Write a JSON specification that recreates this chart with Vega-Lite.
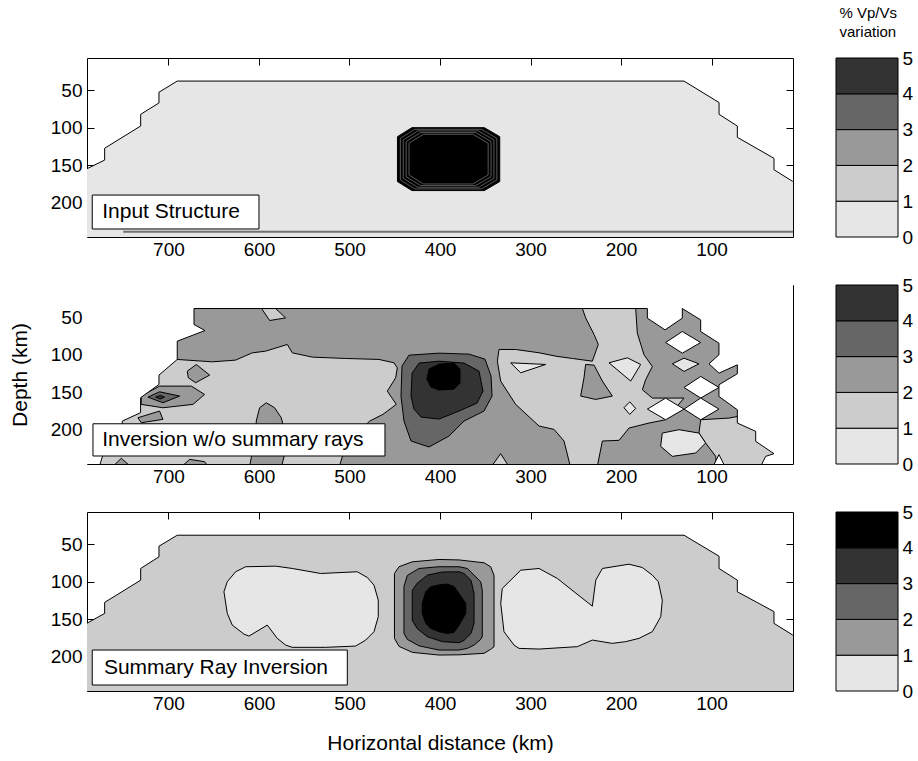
{
"$schema":"https://vega.github.io/schema/vega-lite/v6.json",
"background":"white",
"padding":{"left":9,"top":6,"right":0,"bottom":0},
"config":{"font":"Liberation Sans","view":{"stroke":null},
"axis":{"labelColor":"black","tickColor":"black","domainColor":"black","titleColor":"black","titleFontWeight":"normal","labelFontSize":19,"titleFontSize":21,"grid":false,"zindex":1,"tickWidth":1,"domainWidth":1,"labelFont":"Liberation Sans","titleFont":"Liberation Sans"}},
"datasets":{
"bar":[{"lo":0,"hi":1,"l":"0-1"},{"lo":1,"hi":2,"l":"1-2"},{"lo":2,"hi":3,"l":"2-3"},{"lo":3,"hi":4,"l":"3-4"},{"lo":4,"hi":5,"l":"4-5"}],
"poly":[
{"p":1,"r":"a01","l":"0-1","i":0,"x":810,"y":167},{"p":1,"r":"a01","l":"0-1","i":1,"x":790.8,"y":155.3},{"p":1,"r":"a01","l":"0-1","i":2,"x":770.5,"y":143.3},{"p":1,"r":"a01","l":"0-1","i":3,"x":770.5,"y":127.5},{"p":1,"r":"a01","l":"0-1","i":4,"x":730.7,"y":97.8},{"p":1,"r":"a01","l":"0-1","i":5,"x":730.7,"y":82.2},{"p":1,"r":"a01","l":"0-1","i":6,"x":710.5,"y":67},{"p":1,"r":"a01","l":"0-1","i":7,"x":710.5,"y":52.7},{"p":1,"r":"a01","l":"0-1","i":8,"x":690.3,"y":37.8},{"p":1,"r":"a01","l":"0-1","i":9,"x":130.4,"y":37.8},{"p":1,"r":"a01","l":"0-1","i":10,"x":91.7,"y":66.5},{"p":1,"r":"a01","l":"0-1","i":11,"x":91.7,"y":82.2},{"p":1,"r":"a01","l":"0-1","i":12,"x":71.5,"y":97.8},{"p":1,"r":"a01","l":"0-1","i":13,"x":71.5,"y":112.9},{"p":1,"r":"a01","l":"0-1","i":14,"x":31,"y":141},{"p":1,"r":"a01","l":"0-1","i":15,"x":31,"y":156.2},{"p":1,"r":"a01","l":"0-1","i":16,"x":10.7,"y":171.5},{"p":1,"r":"a01","l":"0-1","i":17,"x":-10,"y":187},{"p":1,"r":"a01","l":"0-1","i":18,"x":-10,"y":260},{"p":1,"r":"a01","l":"0-1","i":19,"x":810,"y":260},
{"p":1,"r":"a02","l":">5","i":0,"x":447,"y":112},{"p":1,"r":"a02","l":">5","i":1,"x":431,"y":100},{"p":1,"r":"a02","l":">5","i":2,"x":351,"y":100},{"p":1,"r":"a02","l":">5","i":3,"x":334,"y":112},{"p":1,"r":"a02","l":">5","i":4,"x":334,"y":172},{"p":1,"r":"a02","l":">5","i":5,"x":351,"y":184},{"p":1,"r":"a02","l":">5","i":6,"x":431,"y":184},{"p":1,"r":"a02","l":">5","i":7,"x":447,"y":172},
{"p":1,"r":"a03","l":"ring","i":0,"x":443.8,"y":114.2},{"p":1,"r":"a03","l":"ring","i":1,"x":427.8,"y":102.2},{"p":1,"r":"a03","l":"ring","i":2,"x":354.2,"y":102.2},{"p":1,"r":"a03","l":"ring","i":3,"x":337.2,"y":114.2},{"p":1,"r":"a03","l":"ring","i":4,"x":337.2,"y":169.8},{"p":1,"r":"a03","l":"ring","i":5,"x":354.2,"y":181.8},{"p":1,"r":"a03","l":"ring","i":6,"x":427.8,"y":181.8},{"p":1,"r":"a03","l":"ring","i":7,"x":443.8,"y":169.8},
{"p":1,"r":"a04","l":"ring","i":0,"x":440.6,"y":116.4},{"p":1,"r":"a04","l":"ring","i":1,"x":424.6,"y":104.4},{"p":1,"r":"a04","l":"ring","i":2,"x":357.4,"y":104.4},{"p":1,"r":"a04","l":"ring","i":3,"x":340.4,"y":116.4},{"p":1,"r":"a04","l":"ring","i":4,"x":340.4,"y":167.6},{"p":1,"r":"a04","l":"ring","i":5,"x":357.4,"y":179.6},{"p":1,"r":"a04","l":"ring","i":6,"x":424.6,"y":179.6},{"p":1,"r":"a04","l":"ring","i":7,"x":440.6,"y":167.6},
{"p":1,"r":"a05","l":"ring","i":0,"x":437.4,"y":118.6},{"p":1,"r":"a05","l":"ring","i":1,"x":421.4,"y":106.6},{"p":1,"r":"a05","l":"ring","i":2,"x":360.6,"y":106.6},{"p":1,"r":"a05","l":"ring","i":3,"x":343.6,"y":118.6},{"p":1,"r":"a05","l":"ring","i":4,"x":343.6,"y":165.4},{"p":1,"r":"a05","l":"ring","i":5,"x":360.6,"y":177.4},{"p":1,"r":"a05","l":"ring","i":6,"x":421.4,"y":177.4},{"p":1,"r":"a05","l":"ring","i":7,"x":437.4,"y":165.4},
{"p":1,"r":"a06","l":"ring","i":0,"x":434.2,"y":120.8},{"p":1,"r":"a06","l":"ring","i":1,"x":418.2,"y":108.8},{"p":1,"r":"a06","l":"ring","i":2,"x":363.8,"y":108.8},{"p":1,"r":"a06","l":"ring","i":3,"x":346.8,"y":120.8},{"p":1,"r":"a06","l":"ring","i":4,"x":346.8,"y":163.2},{"p":1,"r":"a06","l":"ring","i":5,"x":363.8,"y":175.2},{"p":1,"r":"a06","l":"ring","i":6,"x":418.2,"y":175.2},{"p":1,"r":"a06","l":"ring","i":7,"x":434.2,"y":163.2},

{"p":2,"r":"b01","l":"2-3","i":0,"x":820,"y":-20},{"p":2,"r":"b01","l":"2-3","i":1,"x":-20,"y":-20},{"p":2,"r":"b01","l":"2-3","i":2,"x":-20,"y":260},{"p":2,"r":"b01","l":"2-3","i":3,"x":820,"y":260},
{"p":2,"r":"b02","l":"1-2","i":0,"x":820,"y":106.4},{"p":2,"r":"b02","l":"1-2","i":1,"x":690.3,"y":106.4},{"p":2,"r":"b02","l":"1-2","i":2,"x":651.6,"y":109.6},{"p":2,"r":"b02","l":"1-2","i":3,"x":625.8,"y":107.3},{"p":2,"r":"b02","l":"1-2","i":4,"x":607.4,"y":97.6},{"p":2,"r":"b02","l":"1-2","i":5,"x":592.6,"y":95.3},{"p":2,"r":"b02","l":"1-2","i":6,"x":568.7,"y":86.4},{"p":2,"r":"b02","l":"1-2","i":7,"x":563.2,"y":97.6},{"p":2,"r":"b02","l":"1-2","i":8,"x":541.1,"y":103.3},{"p":2,"r":"b02","l":"1-2","i":9,"x":504.2,"y":105.1},{"p":2,"r":"b02","l":"1-2","i":10,"x":467.4,"y":106.4},{"p":2,"r":"b02","l":"1-2","i":11,"x":450.8,"y":110.9},{"p":2,"r":"b02","l":"1-2","i":12,"x":447.2,"y":117.6},{"p":2,"r":"b02","l":"1-2","i":13,"x":449,"y":130.9},{"p":2,"r":"b02","l":"1-2","i":14,"x":458.2,"y":148.7},{"p":2,"r":"b02","l":"1-2","i":15,"x":448.3,"y":166.4},{"p":2,"r":"b02","l":"1-2","i":16,"x":463,"y":179.7},{"p":2,"r":"b02","l":"1-2","i":17,"x":477.7,"y":188.7},{"p":2,"r":"b02","l":"1-2","i":18,"x":491.7,"y":204.7},{"p":2,"r":"b02","l":"1-2","i":19,"x":506.1,"y":228.7},{"p":2,"r":"b02","l":"1-2","i":20,"x":513.8,"y":260},{"p":2,"r":"b02","l":"1-2","i":21,"x":820,"y":260},
{"p":2,"r":"b03","l":"1-2","i":0,"x":334.8,"y":93.1},{"p":2,"r":"b03","l":"1-2","i":1,"x":316.4,"y":93.1},{"p":2,"r":"b03","l":"1-2","i":2,"x":290.6,"y":97.5},{"p":2,"r":"b03","l":"1-2","i":3,"x":272.2,"y":102},{"p":2,"r":"b03","l":"1-2","i":4,"x":253.8,"y":105.1},{"p":2,"r":"b03","l":"1-2","i":5,"x":231.7,"y":108.7},{"p":2,"r":"b03","l":"1-2","i":6,"x":225.1,"y":86.4},{"p":2,"r":"b03","l":"1-2","i":7,"x":229.8,"y":73.1},{"p":2,"r":"b03","l":"1-2","i":8,"x":239.1,"y":50.9},{"p":2,"r":"b03","l":"1-2","i":9,"x":242.7,"y":38.4},{"p":2,"r":"b03","l":"1-2","i":10,"x":183.8,"y":38.4},{"p":2,"r":"b03","l":"1-2","i":11,"x":182,"y":71.3},{"p":2,"r":"b03","l":"1-2","i":12,"x":174.6,"y":100.2},{"p":2,"r":"b03","l":"1-2","i":13,"x":165.4,"y":115.8},{"p":2,"r":"b03","l":"1-2","i":14,"x":172.8,"y":133.5},{"p":2,"r":"b03","l":"1-2","i":15,"x":176.4,"y":146.9},{"p":2,"r":"b03","l":"1-2","i":16,"x":165.4,"y":158},{"p":2,"r":"b03","l":"1-2","i":17,"x":130.4,"y":158},{"p":2,"r":"b03","l":"1-2","i":18,"x":150.7,"y":186.9},{"p":2,"r":"b03","l":"1-2","i":19,"x":169.1,"y":191.3},{"p":2,"r":"b03","l":"1-2","i":20,"x":191.2,"y":198},{"p":2,"r":"b03","l":"1-2","i":21,"x":202.2,"y":214.4},{"p":2,"r":"b03","l":"1-2","i":22,"x":220.6,"y":215.3},{"p":2,"r":"b03","l":"1-2","i":23,"x":228,"y":260},{"p":2,"r":"b03","l":"1-2","i":24,"x":253.8,"y":260},{"p":2,"r":"b03","l":"1-2","i":25,"x":263,"y":215.3},{"p":2,"r":"b03","l":"1-2","i":26,"x":274,"y":199.8},{"p":2,"r":"b03","l":"1-2","i":27,"x":290.6,"y":195.3},{"p":2,"r":"b03","l":"1-2","i":28,"x":316.4,"y":166.4},{"p":2,"r":"b03","l":"1-2","i":29,"x":333,"y":135.3},{"p":2,"r":"b03","l":"1-2","i":30,"x":336.6,"y":108.7},
{"p":2,"r":"b04","l":"1-2","i":0,"x":112,"y":186.9},{"p":2,"r":"b04","l":"1-2","i":1,"x":80.7,"y":184.7},{"p":2,"r":"b04","l":"1-2","i":2,"x":60,"y":180},{"p":2,"r":"b04","l":"1-2","i":3,"x":20,"y":200},{"p":2,"r":"b04","l":"1-2","i":4,"x":20,"y":260},{"p":2,"r":"b04","l":"1-2","i":5,"x":93.6,"y":260},{"p":2,"r":"b04","l":"1-2","i":6,"x":95.4,"y":235.8},{"p":2,"r":"b04","l":"1-2","i":7,"x":106.5,"y":218},{"p":2,"r":"b04","l":"1-2","i":8,"x":113.9,"y":204.7},
{"p":2,"r":"b05","l":"1-2","i":0,"x":597.1,"y":38.4},{"p":2,"r":"b05","l":"1-2","i":1,"x":581.6,"y":38.4},{"p":2,"r":"b05","l":"1-2","i":2,"x":570.6,"y":50.9},{"p":2,"r":"b05","l":"1-2","i":3,"x":588.2,"y":54.4},
{"p":2,"r":"b06","l":"1-2","i":0,"x":349.5,"y":260},{"p":2,"r":"b06","l":"1-2","i":1,"x":333,"y":232.2},{"p":2,"r":"b06","l":"1-2","i":2,"x":318.2,"y":260},
{"p":2,"r":"b07","l":"0-1","i":0,"x":321.9,"y":110.9},{"p":2,"r":"b07","l":"0-1","i":1,"x":283.2,"y":113.1},{"p":2,"r":"b07","l":"0-1","i":2,"x":310.9,"y":124.2},
{"p":2,"r":"b08","l":"0-1","i":0,"x":213.3,"y":110.9},{"p":2,"r":"b08","l":"0-1","i":1,"x":193,"y":104.2},{"p":2,"r":"b08","l":"0-1","i":2,"x":178.3,"y":113.1},{"p":2,"r":"b08","l":"0-1","i":3,"x":189.3,"y":135.3},
{"p":2,"r":"b09","l":"0-1","i":0,"x":196.7,"y":170.9},{"p":2,"r":"b09","l":"0-1","i":1,"x":190.4,"y":162.9},{"p":2,"r":"b09","l":"0-1","i":2,"x":183.8,"y":171.8},{"p":2,"r":"b09","l":"0-1","i":3,"x":190.4,"y":179.8},
{"p":2,"r":"b10","l":"0-1","i":0,"x":154.4,"y":204.7},{"p":2,"r":"b10","l":"0-1","i":1,"x":136,"y":200.2},{"p":2,"r":"b10","l":"0-1","i":2,"x":113.9,"y":204.7},{"p":2,"r":"b10","l":"0-1","i":3,"x":106.5,"y":218},{"p":2,"r":"b10","l":"0-1","i":4,"x":117.5,"y":231.3},{"p":2,"r":"b10","l":"0-1","i":5,"x":143.3,"y":235.8},{"p":2,"r":"b10","l":"0-1","i":6,"x":156.2,"y":222.4},
{"p":2,"r":"b11","l":"2-3","i":0,"x":679.2,"y":122},{"p":2,"r":"b11","l":"2-3","i":1,"x":669.2,"y":113.1},{"p":2,"r":"b11","l":"2-3","i":2,"x":654.5,"y":127.3},{"p":2,"r":"b11","l":"2-3","i":3,"x":670,"y":137.5},{"p":2,"r":"b11","l":"2-3","i":4,"x":678.1,"y":130.9},
{"p":2,"r":"b12","l":"2-3","i":0,"x":730.1,"y":155.3},{"p":2,"r":"b12","l":"2-3","i":1,"x":709.8,"y":142},{"p":2,"r":"b12","l":"2-3","i":2,"x":674.8,"y":142},{"p":2,"r":"b12","l":"2-3","i":3,"x":660.1,"y":153.1},{"p":2,"r":"b12","l":"2-3","i":4,"x":672.9,"y":166.4},{"p":2,"r":"b12","l":"2-3","i":5,"x":706.1,"y":170.9},{"p":2,"r":"b12","l":"2-3","i":6,"x":730.1,"y":166.4},
{"p":2,"r":"b13","l":"3-4","i":0,"x":722.7,"y":156.7},{"p":2,"r":"b13","l":"3-4","i":1,"x":709.8,"y":149.6},{"p":2,"r":"b13","l":"3-4","i":2,"x":687.7,"y":155.3},{"p":2,"r":"b13","l":"3-4","i":3,"x":706.1,"y":164.2},
{"p":2,"r":"b14","l":"4-5","i":0,"x":714.2,"y":156.7},{"p":2,"r":"b14","l":"4-5","i":1,"x":709.1,"y":154.4},{"p":2,"r":"b14","l":"4-5","i":2,"x":704.3,"y":156.7},{"p":2,"r":"b14","l":"4-5","i":3,"x":709.1,"y":159.3},
{"p":2,"r":"b15","l":"2-3","i":0,"x":733.7,"y":184.2},{"p":2,"r":"b15","l":"2-3","i":1,"x":709.8,"y":175.3},{"p":2,"r":"b15","l":"2-3","i":2,"x":706.1,"y":186.4},{"p":2,"r":"b15","l":"2-3","i":3,"x":730.1,"y":190.9},
{"p":2,"r":"b16","l":"2-3","i":0,"x":603,"y":188.7},{"p":2,"r":"b16","l":"2-3","i":1,"x":599.3,"y":170.9},{"p":2,"r":"b16","l":"2-3","i":2,"x":591.9,"y":164.2},{"p":2,"r":"b16","l":"2-3","i":3,"x":582.7,"y":170.9},{"p":2,"r":"b16","l":"2-3","i":4,"x":575.4,"y":184.2},{"p":2,"r":"b16","l":"2-3","i":5,"x":573.5,"y":193.1},{"p":2,"r":"b16","l":"2-3","i":6,"x":571.7,"y":233.1},{"p":2,"r":"b16","l":"2-3","i":7,"x":577.2,"y":260},{"p":2,"r":"b16","l":"2-3","i":8,"x":612.2,"y":260},{"p":2,"r":"b16","l":"2-3","i":9,"x":608.5,"y":237.6},{"p":2,"r":"b16","l":"2-3","i":10,"x":603,"y":202},
{"p":2,"r":"b17","l":"2-3","i":0,"x":770.6,"y":260},{"p":2,"r":"b17","l":"2-3","i":1,"x":752.1,"y":238.4},{"p":2,"r":"b17","l":"2-3","i":2,"x":731.9,"y":260},
{"p":2,"r":"b18","l":"2-3","i":0,"x":695.1,"y":260},{"p":2,"r":"b18","l":"2-3","i":1,"x":676.6,"y":239.8},{"p":2,"r":"b18","l":"2-3","i":2,"x":660.1,"y":242.9},{"p":2,"r":"b18","l":"2-3","i":3,"x":649,"y":260},
{"p":2,"r":"b19","l":"2-3","i":0,"x":239.1,"y":113.1},{"p":2,"r":"b19","l":"2-3","i":1,"x":229.8,"y":114},{"p":2,"r":"b19","l":"2-3","i":2,"x":220.6,"y":135.3},{"p":2,"r":"b19","l":"2-3","i":3,"x":209.6,"y":155.3},{"p":2,"r":"b19","l":"2-3","i":4,"x":228,"y":159.8},{"p":2,"r":"b19","l":"2-3","i":5,"x":244.6,"y":155.3},{"p":2,"r":"b19","l":"2-3","i":6,"x":240.9,"y":130.9},
{"p":2,"r":"b20","l":"3-4","i":0,"x":443.1,"y":155.3},{"p":2,"r":"b20","l":"3-4","i":1,"x":442,"y":115.3},{"p":2,"r":"b20","l":"3-4","i":2,"x":434.3,"y":100.7},{"p":2,"r":"b20","l":"3-4","i":3,"x":401.1,"y":98},{"p":2,"r":"b20","l":"3-4","i":4,"x":368,"y":99.3},{"p":2,"r":"b20","l":"3-4","i":5,"x":350.3,"y":106},{"p":2,"r":"b20","l":"3-4","i":6,"x":343.6,"y":128.7},{"p":2,"r":"b20","l":"3-4","i":7,"x":342.5,"y":155.3},{"p":2,"r":"b20","l":"3-4","i":8,"x":351.4,"y":175.3},{"p":2,"r":"b20","l":"3-4","i":9,"x":373.5,"y":188.7},{"p":2,"r":"b20","l":"3-4","i":10,"x":390.1,"y":208.7},{"p":2,"r":"b20","l":"3-4","i":11,"x":412.2,"y":223.3},{"p":2,"r":"b20","l":"3-4","i":12,"x":432,"y":215.3},{"p":2,"r":"b20","l":"3-4","i":13,"x":439.8,"y":188.7},
{"p":2,"r":"b21","l":"4-5","i":0,"x":432,"y":155.3},{"p":2,"r":"b21","l":"4-5","i":1,"x":430.9,"y":124.7},{"p":2,"r":"b21","l":"4-5","i":2,"x":423.2,"y":111.3},{"p":2,"r":"b21","l":"4-5","i":3,"x":401.1,"y":108.7},{"p":2,"r":"b21","l":"4-5","i":4,"x":373.5,"y":111.3},{"p":2,"r":"b21","l":"4-5","i":5,"x":356.9,"y":122},{"p":2,"r":"b21","l":"4-5","i":6,"x":352.5,"y":148.7},{"p":2,"r":"b21","l":"4-5","i":7,"x":359.1,"y":164.7},{"p":2,"r":"b21","l":"4-5","i":8,"x":379,"y":175.3},{"p":2,"r":"b21","l":"4-5","i":9,"x":401.1,"y":186},{"p":2,"r":"b21","l":"4-5","i":10,"x":421,"y":183.3},{"p":2,"r":"b21","l":"4-5","i":11,"x":428.7,"y":172.7},
{"p":2,"r":"b22","l":">5","i":0,"x":414.4,"y":132.7},{"p":2,"r":"b22","l":">5","i":1,"x":412.2,"y":119.3},{"p":2,"r":"b22","l":">5","i":2,"x":401.1,"y":112.7},{"p":2,"r":"b22","l":">5","i":3,"x":384.5,"y":111.3},{"p":2,"r":"b22","l":">5","i":4,"x":377.9,"y":119.3},{"p":2,"r":"b22","l":">5","i":5,"x":377.9,"y":138},{"p":2,"r":"b22","l":">5","i":6,"x":384.5,"y":146},{"p":2,"r":"b22","l":">5","i":7,"x":401.1,"y":147.3},{"p":2,"r":"b22","l":">5","i":8,"x":410,"y":143.3},
{"p":2,"r":"b23","l":"nodata","i":0,"x":820,"y":260},{"p":2,"r":"b23","l":"nodata","i":1,"x":779,"y":260},{"p":2,"r":"b23","l":"nodata","i":2,"x":771,"y":228},{"p":2,"r":"b23","l":"nodata","i":3,"x":771,"y":213},{"p":2,"r":"b23","l":"nodata","i":4,"x":751,"y":200},{"p":2,"r":"b23","l":"nodata","i":5,"x":751,"y":188.7},{"p":2,"r":"b23","l":"nodata","i":6,"x":730.8,"y":177.5},{"p":2,"r":"b23","l":"nodata","i":7,"x":730.8,"y":157.5},{"p":2,"r":"b23","l":"nodata","i":8,"x":710.5,"y":139.8},{"p":2,"r":"b23","l":"nodata","i":9,"x":710.5,"y":127.3},{"p":2,"r":"b23","l":"nodata","i":10,"x":690.3,"y":106.4},{"p":2,"r":"b23","l":"nodata","i":11,"x":690.3,"y":82},{"p":2,"r":"b23","l":"nodata","i":12,"x":659.7,"y":67.8},{"p":2,"r":"b23","l":"nodata","i":13,"x":671.8,"y":59.8},{"p":2,"r":"b23","l":"nodata","i":14,"x":671.8,"y":38.4},{"p":2,"r":"b23","l":"nodata","i":15,"x":170.9,"y":38.4},{"p":2,"r":"b23","l":"nodata","i":16,"x":170.9,"y":51.3},{"p":2,"r":"b23","l":"nodata","i":17,"x":151.4,"y":66.9},{"p":2,"r":"b23","l":"nodata","i":18,"x":132.3,"y":51.3},{"p":2,"r":"b23","l":"nodata","i":19,"x":132.3,"y":38.4},{"p":2,"r":"b23","l":"nodata","i":20,"x":112,"y":53.6},{"p":2,"r":"b23","l":"nodata","i":21,"x":112,"y":69.1},{"p":2,"r":"b23","l":"nodata","i":22,"x":91.8,"y":84.7},{"p":2,"r":"b23","l":"nodata","i":23,"x":91.8,"y":100.2},{"p":2,"r":"b23","l":"nodata","i":24,"x":102.8,"y":112.2},{"p":2,"r":"b23","l":"nodata","i":25,"x":91.8,"y":124.7},{"p":2,"r":"b23","l":"nodata","i":26,"x":71.5,"y":113.6},{"p":2,"r":"b23","l":"nodata","i":27,"x":71.5,"y":125.5},{"p":2,"r":"b23","l":"nodata","i":28,"x":91.8,"y":140.2},{"p":2,"r":"b23","l":"nodata","i":29,"x":91.8,"y":155.8},{"p":2,"r":"b23","l":"nodata","i":30,"x":71.5,"y":173.6},{"p":2,"r":"b23","l":"nodata","i":31,"x":71.5,"y":191.3},{"p":2,"r":"b23","l":"nodata","i":32,"x":51.2,"y":202.4},{"p":2,"r":"b23","l":"nodata","i":33,"x":51.2,"y":215.8},{"p":2,"r":"b23","l":"nodata","i":34,"x":31,"y":232.2},{"p":2,"r":"b23","l":"nodata","i":35,"x":40.2,"y":235.8},{"p":2,"r":"b23","l":"nodata","i":36,"x":45.7,"y":249.1},{"p":2,"r":"b23","l":"nodata","i":37,"x":47,"y":260},{"p":2,"r":"b23","l":"nodata","i":38,"x":-20,"y":260},{"p":2,"r":"b23","l":"nodata","i":39,"x":-20,"y":-20},{"p":2,"r":"b23","l":"nodata","i":40,"x":820,"y":-20},
{"p":2,"r":"b24","l":"nodata","i":0,"x":150.7,"y":83.8},{"p":2,"r":"b24","l":"nodata","i":1,"x":132.3,"y":69.1},{"p":2,"r":"b24","l":"nodata","i":2,"x":112,"y":83.8},{"p":2,"r":"b24","l":"nodata","i":3,"x":132.3,"y":98},
{"p":2,"r":"b25","l":"0-1","i":0,"x":143.3,"y":112.2},{"p":2,"r":"b25","l":"0-1","i":1,"x":130.4,"y":104.7},{"p":2,"r":"b25","l":"0-1","i":2,"x":113.9,"y":112.2},{"p":2,"r":"b25","l":"0-1","i":3,"x":130.4,"y":122.4},
{"p":2,"r":"b26","l":"nodata","i":0,"x":130.4,"y":143.8},{"p":2,"r":"b26","l":"nodata","i":1,"x":112,"y":129.1},{"p":2,"r":"b26","l":"nodata","i":2,"x":91.8,"y":143.8},{"p":2,"r":"b26","l":"nodata","i":3,"x":112,"y":158},
{"p":2,"r":"b27","l":"nodata","i":0,"x":170.9,"y":172.7},{"p":2,"r":"b27","l":"nodata","i":1,"x":150.7,"y":158},{"p":2,"r":"b27","l":"nodata","i":2,"x":130.4,"y":172.7},{"p":2,"r":"b27","l":"nodata","i":3,"x":150.7,"y":186.9},
{"p":2,"r":"b28","l":"nodata","i":0,"x":130.4,"y":172.7},{"p":2,"r":"b28","l":"nodata","i":1,"x":112,"y":158},{"p":2,"r":"b28","l":"nodata","i":2,"x":91.8,"y":172.7},{"p":2,"r":"b28","l":"nodata","i":3,"x":112,"y":186.9},
{"p":2,"r":"b29","l":"nodata","i":0,"x":102.8,"y":260},{"p":2,"r":"b29","l":"nodata","i":1,"x":91.8,"y":233.5},{"p":2,"r":"b29","l":"nodata","i":2,"x":80.7,"y":260},

{"p":3,"r":"c01","l":"0.5-1","i":0,"x":810,"y":167},{"p":3,"r":"c01","l":"0.5-1","i":1,"x":790.8,"y":156},{"p":3,"r":"c01","l":"0.5-1","i":2,"x":770.5,"y":142.4},{"p":3,"r":"c01","l":"0.5-1","i":3,"x":770.5,"y":127.7},{"p":3,"r":"c01","l":"0.5-1","i":4,"x":730.7,"y":98},{"p":3,"r":"c01","l":"0.5-1","i":5,"x":730.7,"y":82.4},{"p":3,"r":"c01","l":"0.5-1","i":6,"x":710.5,"y":66.8},{"p":3,"r":"c01","l":"0.5-1","i":7,"x":710.5,"y":52.7},{"p":3,"r":"c01","l":"0.5-1","i":8,"x":690.3,"y":38},{"p":3,"r":"c01","l":"0.5-1","i":9,"x":130.4,"y":38},{"p":3,"r":"c01","l":"0.5-1","i":10,"x":91.7,"y":66},{"p":3,"r":"c01","l":"0.5-1","i":11,"x":91.7,"y":82.4},{"p":3,"r":"c01","l":"0.5-1","i":12,"x":71.5,"y":98},{"p":3,"r":"c01","l":"0.5-1","i":13,"x":71.5,"y":113.5},{"p":3,"r":"c01","l":"0.5-1","i":14,"x":31,"y":140},{"p":3,"r":"c01","l":"0.5-1","i":15,"x":31,"y":155.7},{"p":3,"r":"c01","l":"0.5-1","i":16,"x":10.7,"y":171},{"p":3,"r":"c01","l":"0.5-1","i":17,"x":-10,"y":187},{"p":3,"r":"c01","l":"0.5-1","i":18,"x":-10,"y":260},{"p":3,"r":"c01","l":"0.5-1","i":19,"x":810,"y":260},
{"p":3,"r":"c02","l":"0-1","i":0,"x":614.7,"y":80.1},{"p":3,"r":"c02","l":"0-1","i":1,"x":581.6,"y":79.3},{"p":3,"r":"c02","l":"0-1","i":2,"x":563.2,"y":82.4},{"p":3,"r":"c02","l":"0-1","i":3,"x":531.8,"y":89.1},{"p":3,"r":"c02","l":"0-1","i":4,"x":491.4,"y":86.8},{"p":3,"r":"c02","l":"0-1","i":5,"x":480.3,"y":94.4},{"p":3,"r":"c02","l":"0-1","i":6,"x":472.9,"y":104.7},{"p":3,"r":"c02","l":"0-1","i":7,"x":468.2,"y":124.7},{"p":3,"r":"c02","l":"0-1","i":8,"x":468.2,"y":146.8},{"p":3,"r":"c02","l":"0-1","i":9,"x":472.9,"y":166.8},{"p":3,"r":"c02","l":"0-1","i":10,"x":482.1,"y":178},{"p":3,"r":"c02","l":"0-1","i":11,"x":493.2,"y":186},{"p":3,"r":"c02","l":"0-1","i":12,"x":526.3,"y":187.7},{"p":3,"r":"c02","l":"0-1","i":13,"x":563.2,"y":187.7},{"p":3,"r":"c02","l":"0-1","i":14,"x":570.5,"y":184.7},{"p":3,"r":"c02","l":"0-1","i":15,"x":579.8,"y":175.7},{"p":3,"r":"c02","l":"0-1","i":16,"x":590.8,"y":158},{"p":3,"r":"c02","l":"0-1","i":17,"x":611.1,"y":172.7},{"p":3,"r":"c02","l":"0-1","i":18,"x":616.6,"y":170},{"p":3,"r":"c02","l":"0-1","i":19,"x":629.5,"y":158},{"p":3,"r":"c02","l":"0-1","i":20,"x":635,"y":142.4},{"p":3,"r":"c02","l":"0-1","i":21,"x":638.7,"y":113.5},{"p":3,"r":"c02","l":"0-1","i":22,"x":635,"y":100.1},{"p":3,"r":"c02","l":"0-1","i":23,"x":625.8,"y":86.8},
{"p":3,"r":"c03","l":"0-1","i":0,"x":331.2,"y":109.1},{"p":3,"r":"c03","l":"0-1","i":1,"x":310.8,"y":84.7},{"p":3,"r":"c03","l":"0-1","i":2,"x":290.6,"y":82.4},{"p":3,"r":"c03","l":"0-1","i":3,"x":270.4,"y":95.7},{"p":3,"r":"c03","l":"0-1","i":4,"x":251.9,"y":113.5},{"p":3,"r":"c03","l":"0-1","i":5,"x":231.7,"y":132.7},{"p":3,"r":"c03","l":"0-1","i":6,"x":227.9,"y":98},{"p":3,"r":"c03","l":"0-1","i":7,"x":220.6,"y":82.4},{"p":3,"r":"c03","l":"0-1","i":8,"x":191.2,"y":76.7},{"p":3,"r":"c03","l":"0-1","i":9,"x":176.5,"y":81.1},{"p":3,"r":"c03","l":"0-1","i":10,"x":165.4,"y":91.3},{"p":3,"r":"c03","l":"0-1","i":11,"x":158.8,"y":100.1},{"p":3,"r":"c03","l":"0-1","i":12,"x":154.4,"y":124.7},{"p":3,"r":"c03","l":"0-1","i":13,"x":156.1,"y":146.8},{"p":3,"r":"c03","l":"0-1","i":14,"x":165.4,"y":166.8},{"p":3,"r":"c03","l":"0-1","i":15,"x":180.1,"y":175.7},{"p":3,"r":"c03","l":"0-1","i":16,"x":194.8,"y":180.1},{"p":3,"r":"c03","l":"0-1","i":17,"x":209.6,"y":182.4},{"p":3,"r":"c03","l":"0-1","i":18,"x":231.7,"y":178},{"p":3,"r":"c03","l":"0-1","i":19,"x":248.3,"y":186.8},{"p":3,"r":"c03","l":"0-1","i":20,"x":290.6,"y":190},{"p":3,"r":"c03","l":"0-1","i":21,"x":312.7,"y":189.1},{"p":3,"r":"c03","l":"0-1","i":22,"x":318.2,"y":184.7},{"p":3,"r":"c03","l":"0-1","i":23,"x":329.3,"y":166.8},{"p":3,"r":"c03","l":"0-1","i":24,"x":332.9,"y":129.1},
{"p":3,"r":"c04","l":"1-2","i":0,"x":450.3,"y":89.1},{"p":3,"r":"c04","l":"1-2","i":1,"x":445.3,"y":80.1},{"p":3,"r":"c04","l":"1-2","i":2,"x":430.6,"y":73.5},{"p":3,"r":"c04","l":"1-2","i":3,"x":401.1,"y":70.4},{"p":3,"r":"c04","l":"1-2","i":4,"x":379,"y":71},{"p":3,"r":"c04","l":"1-2","i":5,"x":351.4,"y":74.8},{"p":3,"r":"c04","l":"1-2","i":6,"x":344,"y":80.1},{"p":3,"r":"c04","l":"1-2","i":7,"x":340.3,"y":91.7},{"p":3,"r":"c04","l":"1-2","i":8,"x":340.3,"y":186.8},{"p":3,"r":"c04","l":"1-2","i":9,"x":344,"y":190.4},{"p":3,"r":"c04","l":"1-2","i":10,"x":351.4,"y":195.7},{"p":3,"r":"c04","l":"1-2","i":11,"x":379,"y":197.7},{"p":3,"r":"c04","l":"1-2","i":12,"x":401.1,"y":198},{"p":3,"r":"c04","l":"1-2","i":13,"x":430.6,"y":194.4},{"p":3,"r":"c04","l":"1-2","i":14,"x":445.3,"y":186.4},{"p":3,"r":"c04","l":"1-2","i":15,"x":450.3,"y":175.7},
{"p":3,"r":"c05","l":"2-3","i":0,"x":439.8,"y":106.4},{"p":3,"r":"c05","l":"2-3","i":1,"x":436.1,"y":91.7},{"p":3,"r":"c05","l":"2-3","i":2,"x":423.2,"y":82.4},{"p":3,"r":"c05","l":"2-3","i":3,"x":401.1,"y":80.1},{"p":3,"r":"c05","l":"2-3","i":4,"x":379,"y":80.1},{"p":3,"r":"c05","l":"2-3","i":5,"x":369.8,"y":82.4},{"p":3,"r":"c05","l":"2-3","i":6,"x":362.4,"y":91.3},{"p":3,"r":"c05","l":"2-3","i":7,"x":355,"y":100.1},{"p":3,"r":"c05","l":"2-3","i":8,"x":353.3,"y":111.7},{"p":3,"r":"c05","l":"2-3","i":9,"x":353.3,"y":173.1},{"p":3,"r":"c05","l":"2-3","i":10,"x":355,"y":177.1},{"p":3,"r":"c05","l":"2-3","i":11,"x":362.4,"y":184.7},{"p":3,"r":"c05","l":"2-3","i":12,"x":369.8,"y":189.1},{"p":3,"r":"c05","l":"2-3","i":13,"x":379,"y":191.3},{"p":3,"r":"c05","l":"2-3","i":14,"x":401.1,"y":191.3},{"p":3,"r":"c05","l":"2-3","i":15,"x":423.2,"y":185.7},{"p":3,"r":"c05","l":"2-3","i":16,"x":436.1,"y":177.1},{"p":3,"r":"c05","l":"2-3","i":17,"x":439.8,"y":169.1},
{"p":3,"r":"c06","l":"3-4","i":0,"x":430.6,"y":111.7},{"p":3,"r":"c06","l":"3-4","i":1,"x":425.4,"y":102.4},{"p":3,"r":"c06","l":"3-4","i":2,"x":414,"y":91.3},{"p":3,"r":"c06","l":"3-4","i":3,"x":397.5,"y":87.1},{"p":3,"r":"c06","l":"3-4","i":4,"x":379,"y":86.8},{"p":3,"r":"c06","l":"3-4","i":5,"x":373.5,"y":89.1},{"p":3,"r":"c06","l":"3-4","i":6,"x":365.7,"y":98.4},{"p":3,"r":"c06","l":"3-4","i":7,"x":362.4,"y":115.7},{"p":3,"r":"c06","l":"3-4","i":8,"x":362.4,"y":155.7},{"p":3,"r":"c06","l":"3-4","i":9,"x":365.7,"y":169.1},{"p":3,"r":"c06","l":"3-4","i":10,"x":373.5,"y":178.4},{"p":3,"r":"c06","l":"3-4","i":11,"x":379,"y":181.5},{"p":3,"r":"c06","l":"3-4","i":12,"x":397.5,"y":180.1},{"p":3,"r":"c06","l":"3-4","i":13,"x":414,"y":173.5},{"p":3,"r":"c06","l":"3-4","i":14,"x":425.4,"y":162.4},{"p":3,"r":"c06","l":"3-4","i":15,"x":430.6,"y":151.7},
{"p":3,"r":"c07","l":"4-5","i":0,"x":419.6,"y":129.1},{"p":3,"r":"c07","l":"4-5","i":1,"x":415.8,"y":113.5},{"p":3,"r":"c07","l":"4-5","i":2,"x":410.3,"y":106.8},{"p":3,"r":"c07","l":"4-5","i":3,"x":401.1,"y":104.4},{"p":3,"r":"c07","l":"4-5","i":4,"x":391.9,"y":103.3},{"p":3,"r":"c07","l":"4-5","i":5,"x":384.5,"y":106.4},{"p":3,"r":"c07","l":"4-5","i":6,"x":379,"y":115.7},{"p":3,"r":"c07","l":"4-5","i":7,"x":371.6,"y":129.1},{"p":3,"r":"c07","l":"4-5","i":8,"x":371.6,"y":142.4},{"p":3,"r":"c07","l":"4-5","i":9,"x":379,"y":158.4},{"p":3,"r":"c07","l":"4-5","i":10,"x":384.5,"y":167.7},{"p":3,"r":"c07","l":"4-5","i":11,"x":391.9,"y":169.1},{"p":3,"r":"c07","l":"4-5","i":12,"x":401.1,"y":166.8},{"p":3,"r":"c07","l":"4-5","i":13,"x":410.3,"y":162.4},{"p":3,"r":"c07","l":"4-5","i":14,"x":415.8,"y":155.7},{"p":3,"r":"c07","l":"4-5","i":15,"x":419.6,"y":142.4}
]},
"spacing":17,
"resolve":{"scale":{"fill":"independent"}},
"vconcat":[
{"spacing":41,"resolve":{"scale":{"fill":"independent"}},"hconcat":[
{"width":706,"height":179,"resolve":{"axis":{"x":"independent","y":"independent"}},
"layer":[
{"data":{"name":"poly"},"transform":[{"filter":"datum.p == 1 && datum.l != 'ring'"}],
"mark":{"type":"line","interpolate":"linear-closed","clip":true,"strokeWidth":1},
"encoding":{
"x":{"field":"x","type":"quantitative","scale":{"domain":[10,790],"reverse":true,"nice":false,"zero":false},"axis":{"orient":"bottom","values":[100,200,300,400,500,600,700],"tickSize":-7,"labelPadding":10,"title":null,"labelFlush":false}},
"y":{"field":"y","type":"quantitative","scale":{"domain":[7,246],"reverse":true,"nice":false,"zero":false},"axis":{"orient":"left","values":[50,100,150,200],"tickSize":-7,"labelPadding":12,"title":" ","titlePadding":20}},
"detail":{"field":"r","type":"nominal"},
"order":{"field":"i","type":"quantitative"},
"fill":{"field":"l","type":"nominal","scale":{"domain":["nodata","0-1","1-2","2-3","3-4","4-5",">5","ring"],"range":["#ffffff","#e6e6e6","#cccccc","#999999","#666666","#333333","#000000","#000000"]},"legend":null},
"stroke":{"value":"black"}}},
{"data":{"name":"poly"},"transform":[{"filter":"datum.p == 1 && datum.l == 'ring'"}],
"mark":{"type":"line","interpolate":"linear-closed","clip":true,"strokeWidth":0.8,"color":"#6e6e6e"},
"encoding":{"x":{"field":"x","type":"quantitative","axis":null},"y":{"field":"y","type":"quantitative","axis":null},"detail":{"field":"r","type":"nominal"},"order":{"field":"i","type":"quantitative"}}},
{"data":{"values":[{"k":"line"}]},"mark":{"type":"rule","color":"#707070","strokeWidth":2},
"encoding":{"x":{"datum":750,"type":"quantitative","axis":null},"x2":{"datum":10},"y":{"datum":239,"type":"quantitative","axis":null}}},
{"data":{"name":"poly"},"transform":[{"filter":"datum.p == 1"}],"mark":{"type":"point","opacity":0,"clip":true},
"encoding":{"x":{"field":"x","type":"quantitative","axis":{"orient":"top","values":[100,200,300,400,500,600,700],"tickSize":-7,"labels":false,"title":null}},"y":{"field":"y","type":"quantitative","axis":{"orient":"right","values":[50,100,150,200],"tickSize":-7,"labels":false,"title":null,"minExtent":0}}}},
{"data":{"values":[{"t":"Input Structure"}]},"mark":{"type":"rect","fill":"white","stroke":"black","strokeWidth":1},
"encoding":{"x":{"datum":784.2,"type":"quantitative","axis":null},"x2":{"datum":600},"y":{"datum":190,"type":"quantitative","axis":null},"y2":{"datum":235.3}}},
{"data":{"values":[{"t":"Input Structure"}]},"mark":{"type":"text","align":"left","baseline":"middle","fontSize":21,"color":"black"},
"encoding":{"x":{"datum":773.2,"type":"quantitative","axis":null},"y":{"datum":212.7,"type":"quantitative","axis":null},"text":{"field":"t"}}}
]},
{"width":62,"height":179,"data":{"name":"bar"},
"title":{"text":["% Vp/Vs","variation"],"anchor":"start","fontSize":15,"fontWeight":"normal","offset":9,"lineHeight":19,"dx":4,"color":"black"},
"mark":{"type":"rect","stroke":"black","strokeWidth":1},
"encoding":{"x":{"datum":0,"type":"quantitative","scale":{"domain":[0,1],"nice":false,"zero":false},"axis":null},"x2":{"datum":1},
"y":{"field":"lo","type":"quantitative","scale":{"domain":[0,5],"nice":false},"axis":{"orient":"right","values":[0,1,2,3,4,5],"ticks":false,"domain":false,"labelPadding":4,"title":null,"minExtent":0}},
"y2":{"field":"hi"},
"fill":{"field":"l","type":"nominal","scale":{"domain":["nodata","0-1","1-2","2-3","3-4","4-5",">5","ring"],"range":["#ffffff","#e6e6e6","#cccccc","#999999","#666666","#333333","#000000","#000000"]},"legend":null}}}
]},
{"spacing":41,"resolve":{"scale":{"fill":"independent"}},"hconcat":[
{"width":706,"height":179,"resolve":{"axis":{"x":"independent","y":"independent"}},
"layer":[
{"data":{"name":"poly"},"transform":[{"filter":"datum.p == 2"}],
"mark":{"type":"line","interpolate":"linear-closed","clip":true,"strokeWidth":1},
"encoding":{
"x":{"field":"x","type":"quantitative","scale":{"domain":[10,790],"reverse":true,"nice":false,"zero":false},"axis":{"orient":"bottom","values":[100,200,300,400,500,600,700],"tickSize":-7,"labelPadding":10,"title":null,"labelFlush":false}},
"y":{"field":"y","type":"quantitative","scale":{"domain":[7,246],"reverse":true,"nice":false,"zero":false},"axis":{"orient":"left","values":[50,100,150,200],"tickSize":-7,"labelPadding":12,"title":"Depth (km)","titlePadding":20}},
"detail":{"field":"r","type":"nominal"},
"order":{"field":"i","type":"quantitative"},
"fill":{"field":"l","type":"nominal","scale":{"domain":["nodata","0-1","1-2","2-3","3-4","4-5",">5"],"range":["#ffffff","#e6e6e6","#cccccc","#999999","#666666","#333333","#000000"]},"legend":null},
"stroke":{"value":"black"}}},
{"data":{"name":"poly"},"transform":[{"filter":"datum.p == 2"}],"mark":{"type":"point","opacity":0,"clip":true},
"encoding":{"x":{"field":"x","type":"quantitative","axis":{"orient":"top","values":[100,200,300,400,500,600,700],"tickSize":-7,"labels":false,"title":null}},"y":{"field":"y","type":"quantitative","axis":{"orient":"right","values":[50,100,150,200],"tickSize":-7,"labels":false,"title":null,"minExtent":0}}}},
{"data":{"values":[{"t":"Inversion w/o summary rays"}]},"mark":{"type":"rect","fill":"white","stroke":"black","strokeWidth":1},
"encoding":{"x":{"datum":783.4,"type":"quantitative","axis":null},"x2":{"datum":460.8},"y":{"datum":192.3,"type":"quantitative","axis":null},"y2":{"datum":235.3}}},
{"data":{"values":[{"t":"Inversion w/o summary rays"}]},"mark":{"type":"text","align":"left","baseline":"middle","fontSize":21,"color":"black"},
"encoding":{"x":{"datum":773.2,"type":"quantitative","axis":null},"y":{"datum":213.8,"type":"quantitative","axis":null},"text":{"field":"t"}}}
]},
{"width":62,"height":179,"data":{"name":"bar"},
"mark":{"type":"rect","stroke":"black","strokeWidth":1},
"encoding":{"x":{"datum":0,"type":"quantitative","scale":{"domain":[0,1],"nice":false,"zero":false},"axis":null},"x2":{"datum":1},
"y":{"field":"lo","type":"quantitative","scale":{"domain":[0,5],"nice":false},"axis":{"orient":"right","values":[0,1,2,3,4,5],"ticks":false,"domain":false,"labelPadding":4,"title":null,"minExtent":0}},
"y2":{"field":"hi"},
"fill":{"field":"l","type":"nominal","scale":{"domain":["nodata","0-1","1-2","2-3","3-4","4-5",">5"],"range":["#ffffff","#e6e6e6","#cccccc","#999999","#666666","#333333","#000000"]},"legend":null}}}
]},
{"spacing":41,"resolve":{"scale":{"fill":"independent"}},"hconcat":[
{"width":706,"height":179,"resolve":{"axis":{"x":"independent","y":"independent"}},
"layer":[
{"data":{"name":"poly"},"transform":[{"filter":"datum.p == 3"}],
"mark":{"type":"line","interpolate":"linear-closed","clip":true,"strokeWidth":1},
"encoding":{
"x":{"field":"x","type":"quantitative","scale":{"domain":[10,790],"reverse":true,"nice":false,"zero":false},"axis":{"orient":"bottom","values":[100,200,300,400,500,600,700],"tickSize":-7,"labelPadding":10,"title":"Horizontal distance (km)","titlePadding":19,"labelFlush":false}},
"y":{"field":"y","type":"quantitative","scale":{"domain":[7,246],"reverse":true,"nice":false,"zero":false},"axis":{"orient":"left","values":[50,100,150,200],"tickSize":-7,"labelPadding":12,"title":" ","titlePadding":20}},
"detail":{"field":"r","type":"nominal"},
"order":{"field":"i","type":"quantitative"},
"fill":{"field":"l","type":"nominal","scale":{"domain":["0-1","0.5-1","1-2","2-3","3-4","4-5"],"range":["#e6e6e6","#cccccc","#999999","#666666","#333333","#000000"]},"legend":null},
"stroke":{"value":"black"}}},
{"data":{"name":"poly"},"transform":[{"filter":"datum.p == 3"}],"mark":{"type":"point","opacity":0,"clip":true},
"encoding":{"x":{"field":"x","type":"quantitative","axis":{"orient":"top","values":[100,200,300,400,500,600,700],"tickSize":-7,"labels":false,"title":null}},"y":{"field":"y","type":"quantitative","axis":{"orient":"right","values":[50,100,150,200],"tickSize":-7,"labels":false,"title":null,"minExtent":0}}}},
{"data":{"values":[{"t":"Summary Ray Inversion"}]},"mark":{"type":"rect","fill":"white","stroke":"black","strokeWidth":1},
"encoding":{"x":{"datum":784.2,"type":"quantitative","axis":null},"x2":{"datum":502.4},"y":{"datum":191.3,"type":"quantitative","axis":null},"y2":{"datum":238}}},
{"data":{"values":[{"t":"Summary Ray Inversion"}]},"mark":{"type":"text","align":"left","baseline":"middle","fontSize":21,"color":"black"},
"encoding":{"x":{"datum":771.3,"type":"quantitative","axis":null},"y":{"datum":214.7,"type":"quantitative","axis":null},"text":{"field":"t"}}}
]},
{"width":62,"height":179,"data":{"name":"bar"},
"mark":{"type":"rect","stroke":"black","strokeWidth":1},
"encoding":{"x":{"datum":0,"type":"quantitative","scale":{"domain":[0,1],"nice":false,"zero":false},"axis":null},"x2":{"datum":1},
"y":{"field":"lo","type":"quantitative","scale":{"domain":[0,5],"nice":false},"axis":{"orient":"right","values":[0,1,2,3,4,5],"ticks":false,"domain":false,"labelPadding":4,"title":null,"minExtent":0}},
"y2":{"field":"hi"},
"fill":{"field":"l","type":"nominal","scale":{"domain":["0-1","0.5-1","1-2","2-3","3-4","4-5"],"range":["#e6e6e6","#cccccc","#999999","#666666","#333333","#000000"]},"legend":null}}}
]}
]
}
